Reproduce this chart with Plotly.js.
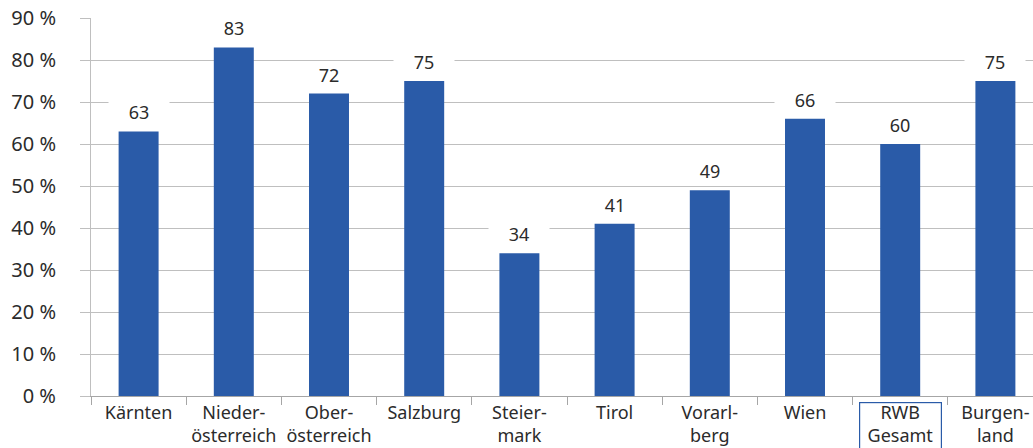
<!DOCTYPE html>
<html>
<head>
<meta charset="utf-8">
<script src="https://cdn.plot.ly/plotly-3.0.1.min.js"></script>
<style>
html,body{margin:0;padding:0;overflow:hidden;background:#fff;}
#chart{width:1060px;height:448px;}
</style>
</head>
<body>
<div id="chart"></div>
<script>
const categories = ["Kärnten","Niederösterreich","Oberösterreich","Salzburg","Steiermark","Tirol","Vorarlberg","Wien","RWB Gesamt","Burgenland"];
const tickLabels = ["Kärnten","Nieder-<br>österreich","Ober-<br>österreich","Salzburg","Steier-<br>mark","Tirol","Vorarl-<br>berg","Wien","RWB<br>Gesamt","Burgen-<br>land"];
const values = [63, 83, 72, 75, 34, 41, 49, 66, 60, 75];
const highlighted = "RWB Gesamt";
const yTicks = [0,10,20,30,40,50,60,70,80,90];
const yTickLabels = yTicks.map(v => v + " %");

const textColor = "#2b2b2b";
const gridColor = "#bfbfbf";
const barColor = "#2a5ba8";
const font = "Noto Sans, Open Sans, sans-serif";

const trace = {
  type: "bar",
  x: categories,
  y: values,
  width: 0.42,
  marker: {color: barColor},
  hoverinfo: "skip"
};

const annotations = categories.map((c, i) => ({
  x: c, y: values[i], xref: "x", yref: "y",
  text: String(values[i]),
  showarrow: false,
  yanchor: "bottom",
  yshift: 6,
  width: 60, height: 24,
  borderpad: 0,
  bgcolor: "#ffffff",
  font: {family: font, size: 18, color: textColor}
}));

annotations.push({
  x: highlighted, xref: "x", y: 0, yref: "paper",
  yanchor: "top", yshift: -6,
  text: " ", showarrow: false,
  width: 81, height: 60,
  borderpad: 0,
  bordercolor: "#2a5ba8", borderwidth: 1.2,
  bgcolor: "rgba(0,0,0,0)"
});

const layout = {
  width: 1060, height: 448,
  margin: {l: 91, r: 17, t: 18, b: 52},
  paper_bgcolor: "#ffffff",
  plot_bgcolor: "#ffffff",
  showlegend: false,
  bargap: 0.58,
  font: {family: font, color: textColor},
  xaxis: {
    type: "category",
    tickvals: categories,
    ticktext: tickLabels,
    tickangle: 0,
    tickson: "boundaries",
    ticks: "outside",
    ticklen: 8,
    tickcolor: "#a6a6a6",
    showline: true,
    linecolor: "#a6a6a6",
    linewidth: 1,
    showgrid: false,
    zeroline: false,
    tickfont: {family: font, size: 18, color: textColor},
    fixedrange: true
  },
  yaxis: {
    range: [0, 90],
    tickvals: yTicks,
    ticktext: yTickLabels,
    ticks: "outside",
    ticklen: 10,
    tickcolor: gridColor,
    ticklabelstandoff: 20,
    showline: true,
    linecolor: gridColor,
    showgrid: true,
    gridcolor: gridColor,
    gridwidth: 1,
    zeroline: false,
    tickfont: {family: font, size: 20, color: textColor},
    fixedrange: true
  },
  annotations: annotations
};

Plotly.newPlot("chart", [trace], layout, {displayModeBar: false, staticPlot: true});
</script>
</body>
</html>
